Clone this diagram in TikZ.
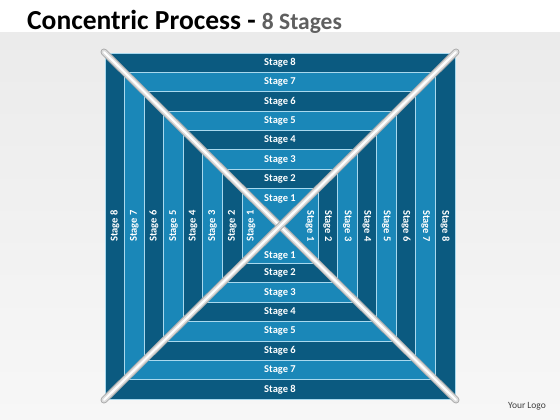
\documentclass[tikz,border=0pt]{standalone}
\usepackage{fontspec}
\setmainfont{Carlito}
\definecolor{darkb}{HTML}{0B5A80}
\definecolor{lightb}{HTML}{1A87B8}
\definecolor{sepc}{HTML}{A9D9EE}
\definecolor{bgtop}{HTML}{EBEBEB}
\definecolor{bgbot}{HTML}{F7F7F7}
\definecolor{titlegray}{HTML}{5F5F5F}
\tikzset{
  stagelbl/.style={text=white,font=\bfseries\fontsize{10.5}{11}\selectfont,inner sep=0pt},
  bandbox/.style={draw=sepc,line width=0.8pt},
}
\begin{document}
\begin{tikzpicture}[x=1pt,y=-1pt]
\useasboundingbox (0,0) rectangle (560,420);
\fill[white] (0,0) rectangle (560,420);
\shade[top color=bgtop,bottom color=bgbot] (0,33) rectangle (560,420);
% title
\node[anchor=base west,inner sep=0pt] (title) at (27,30)
  {\fontsize{27.5}{30}\selectfont\bfseries Concentric Process - {\fontsize{23.5}{26}\selectfont\color{titlegray}8 Stages}};
% concentric rectangles
\foreach \k in {8,7,...,1}{
  \pgfmathsetmacro{\a}{38+(\k-1)*19.57}
  \pgfmathsetmacro{\b}{37.5+(\k-1)*19.36}
  \pgfmathtruncatemacro{\odd}{mod(\k,2)}
  \ifnum\odd=1 \def\fc{lightb}\else\def\fc{darkb}\fi
  \filldraw[bandbox,fill=\fc] (280-\a,226-\b) rectangle (280+\a,226+\b);
}
% labels
\foreach \k in {2,...,8}{
  \pgfmathsetmacro{\ma}{38+(\k-1.5)*19.57}
  \pgfmathsetmacro{\mb}{37.5+(\k-1.5)*19.36}
  \node[stagelbl] (t\k) at (280,226-\mb) {Stage \k};
  \node[stagelbl] (b\k) at (280,226+\mb) {Stage \k};
  \node[stagelbl,rotate=90] (l\k) at (280-\ma,226) {Stage \k};
  \node[stagelbl,rotate=-90] (r\k) at (280+\ma,226) {Stage \k};
}
\node[stagelbl] (t1) at (280,198.5) {Stage 1};
\node[stagelbl] (b1) at (280,255.5) {Stage 1};
\node[stagelbl,rotate=90] (l1) at (251,226) {Stage 1};
\node[stagelbl,rotate=-90] (r1) at (310,226) {Stage 1};
% diagonal bars
\coordinate (tl) at (104,52);
\coordinate (br) at (456,400);
\coordinate (tr) at (456,52);
\coordinate (bl) at (104,400);
\foreach \p/\q in {tl/br,tr/bl}{
  \draw[line width=7pt,line cap=round,color=black!32] (\p) -- (\q);
  \draw[line width=5pt,line cap=round,color=black!14] (\p) -- (\q);
  \draw[line width=2pt,line cap=round,color=white] (\p) -- (\q);
}
% logo
\node[inner sep=0pt,font=\fontsize{9.5}{10}\selectfont,text=black!75] (logo) at (527,406) {Your Logo};
\end{tikzpicture}
\end{document}
